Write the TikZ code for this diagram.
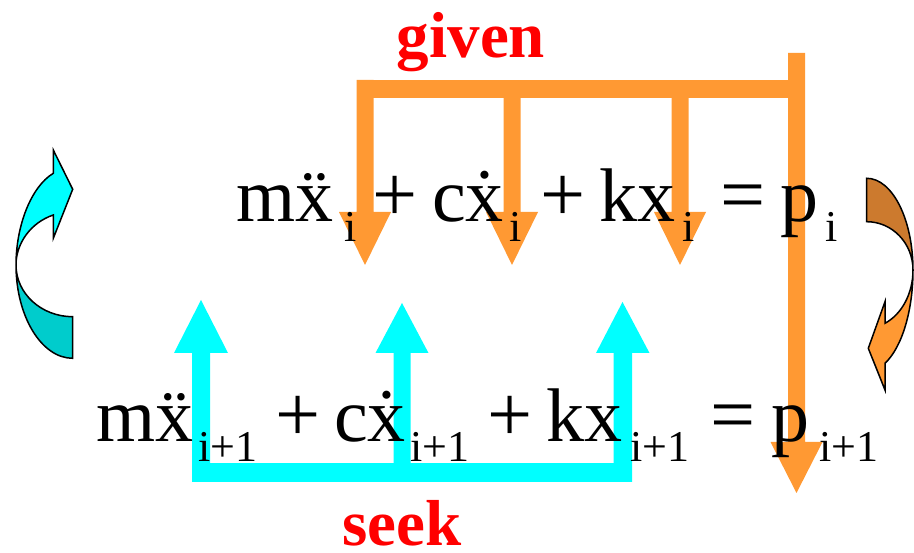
\documentclass[tikz,border=0pt]{standalone}
\usepackage{fontspec}
\setmainfont{Liberation Serif}
\definecolor{orng}{HTML}{FF9933}
\definecolor{dorng}{HTML}{CC7A2E}
\definecolor{cyn}{HTML}{00FFFF}
\definecolor{dcyn}{HTML}{00CCCC}
\tikzset{
  eq/.style={anchor=base west, inner sep=0pt, font=\fontsize{76}{86}\selectfont},
  op/.style={anchor=base west, inner sep=0pt, font=\fontsize{80}{90}\selectfont},
  sub/.style={anchor=base west, inner sep=0pt, font=\fontsize{44}{50}\selectfont},
  lab/.style={anchor=base, inner sep=0pt, text depth=0pt, text=red, font=\bfseries\fontsize{65}{70}\selectfont},
  curv/.style={draw=black, line width=1.5pt, line join=miter},
}
\begin{document}
\begin{tikzpicture}[x=1pt,y=-1pt]
\useasboundingbox (0,0) rectangle (914,553);
% ---- orange "given" structure
\fill[orng] (358,80) rectangle (805,98);
% left down arrow
\fill[orng] (356.5,80) -- (373.5,80) -- (373.5,212) -- (391,212) -- (365,265) -- (339,212) -- (356.5,212) -- cycle;
% middle
\fill[orng] (503.5,98) -- (520.5,98) -- (520.5,212) -- (538,212) -- (512,265) -- (486,212) -- (503.5,212) -- cycle;
% right
\fill[orng] (671.5,98) -- (688.5,98) -- (688.5,212) -- (706,212) -- (680,265) -- (654,212) -- (671.5,212) -- cycle;
% big
\fill[orng] (788,53) -- (805,53) -- (805,442) -- (822.5,442) -- (796.5,493) -- (770.5,442) -- (788,442) -- cycle;
% ---- cyan "seek" structure
\fill[cyn] (192,463) rectangle (632,482);
\fill[cyn] (192,482) -- (210,482) -- (210,353) -- (228,353) -- (201,300) -- (174,353) -- (192,353) -- cycle;
\fill[cyn] (393.5,482) -- (410.5,482) -- (410.5,353) -- (428.5,353) -- (402,303) -- (375.5,353) -- (393.5,353) -- cycle;
\fill[cyn] (613.5,482) -- (632,482) -- (632,353) -- (649.5,353) -- (622.5,302) -- (596,353) -- (613.5,353) -- cycle;
% ---- left curved arrow
\filldraw[curv, fill=dcyn] (16,265) .. controls (16,316.3) and (41.5,358.3) .. (72.7,358.3) -- (72.7,316.7) .. controls (41.5,316.7) and (16,293.7) .. (16,265) -- cycle;
\filldraw[curv, fill=cyn] (16,265) .. controls (16,226) and (30.9,186.8) .. (53.3,173.3) -- (53.3,150) -- (72.7,189.3) -- (53.3,238.3) -- (53.3,215) .. controls (30.9,222.5) and (16,243.2) .. (16,265) -- cycle;
% ---- right curved arrow
\filldraw[curv, fill=dorng] (866.7,178.3) .. controls (892.3,178.3) and (913,219.4) .. (913,270) .. controls (913,243.3) and (892.3,221.7) .. (866.7,221.7) -- cycle;
\filldraw[curv, fill=orng] (913,270) .. controls (913,310.6) and (902,347.3) .. (885,363.3) -- (885,390) -- (868.3,348.3) -- (885,301.7) -- (885,323.3) .. controls (902,314.1) and (913,293.2) .. (913,270) -- cycle;
% ---- row 1
\node[eq]  (a1) at (236,222) {m\"x};
\node[sub] (a1s) at (344,242) {i};
\node[op]  (a2) at (372,222) {+};
\node[eq]  (a3) at (432,222) {c\.x};
\node[sub] (a3s) at (509,242) {i};
\node[op]  (a4) at (540,222) {+};
\node[eq]  (a5) at (599,222) {kx};
\node[sub] (a5s) at (682,242) {i};
\node[op]  (a6) at (720,222) {=};
\node[eq]  (a7) at (780,222) {p};
\node[sub] (a7s) at (825,242) {i};
% ---- row 2
\node[eq]  (b1) at (96,442) {m\"x};
\node[sub] (b1s) at (198,462) {i+1};
\node[op]  (b2) at (275,442) {+};
\node[eq]  (b3) at (334,442) {c\.x};
\node[sub] (b3s) at (410,462) {i+1};
\node[op]  (b4) at (487,442) {+};
\node[eq]  (b5) at (546,442) {kx};
\node[sub] (b5s) at (630,462) {i+1};
\node[op]  (b6) at (710,442) {=};
\node[eq]  (b7) at (771,442) {p};
\node[sub] (b7s) at (819,462) {i+1};
% ---- labels
\node[lab] (given) at (471,58) {given};
\node[lab] (seek) at (402,545) {seek};
\end{tikzpicture}
\end{document}
